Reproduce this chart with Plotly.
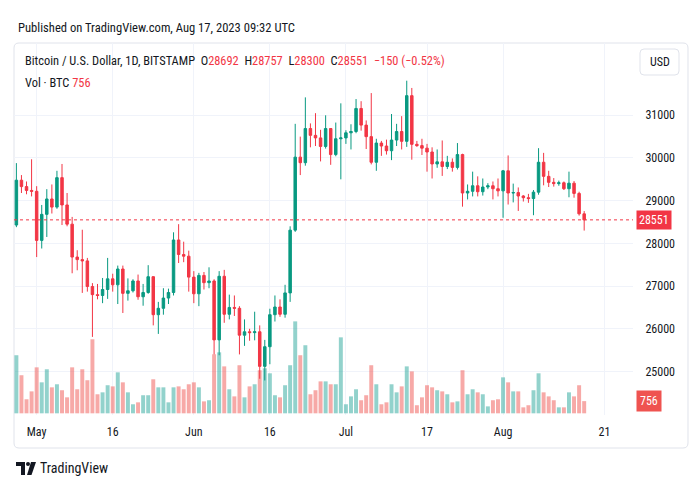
import plotly.graph_objects as go
import pandas as pd

dates = pd.date_range("2023-04-27", "2023-08-17").strftime("%Y-%m-%d").tolist()

opens = [28430, 29480, 29330, 29240,
         29220, 28070, 28680, 29040, 28850, 29540, 28900, 28450, 27680, 27620, 27590, 26990, 26800, 26780, 26920, 27170,
         27030, 27400, 26830, 26890, 27120, 26750, 26850, 27220, 26330, 26480, 26720, 26850, 28080, 27740, 27700,
         27210, 26820, 27250, 27080, 27120, 25740, 27230, 26340, 26500, 26480, 25850, 25930, 25910, 25930, 25120,
         25580, 26330, 26510, 26340, 26840, 28310, 30020, 29890, 30690, 30530, 30470, 30270, 30690, 30080, 30450,
         30470, 30590, 30620, 31160, 30770, 30500, 29900, 30350, 30280, 30170, 30420, 30620, 30390, 31460, 30320,
         30290, 30230, 30140, 29860, 29910, 29800, 29900, 29780, 30080, 29180, 29220, 29350, 29210, 29320, 29350, 29280,
         29230, 29700, 29180, 29190, 29110, 29070, 29050, 29200, 29900, 29570, 29430, 29400, 29420, 29280, 29410, 29170, 28692]
highs = [29880, 29600, 29450, 29970,
         29340, 28900, 29270, 29380, 29700, 29860, 29180, 28620, 27840, 28320, 27660, 27070, 27050, 27190, 27660, 27290,
         27480, 27480, 27180, 27160, 27270, 27050, 27490, 27230, 26630, 26950, 26940, 28260, 28450, 28040, 27830,
         27350, 27310, 27330, 27440, 27160, 27350, 27380, 26800, 26780, 26530, 26220, 26000, 26400, 26080, 25740,
         26470, 26780, 26690, 27030, 28400, 30800, 30500, 31420, 30810, 31050, 30660, 31000, 30700, 30830, 31280,
         30650, 30790, 31380, 31330, 30880, 31520, 30450, 30400, 30430, 31030, 30800, 30980, 31810, 31640, 30400,
         30450, 30330, 30250, 30200, 30410, 30050, 29990, 30350, 30100, 29380, 29680, 29570, 29520, 29410, 29450, 29520,
         29720, 30060, 29400, 29310, 29130, 29160, 29250, 30230, 30120, 29700, 29530, 29470, 29450, 29680, 29460, 29210, 28757]
lows = [28380, 29180, 29150, 29100,
        27680, 27880, 28150, 28700, 28810, 28430, 28400, 27300, 27370, 26840, 26870, 25810, 26690, 26600, 26700, 26870,
        26580, 26370, 26660, 26850, 26680, 26540, 26820, 26080, 25880, 26330, 26580, 26780, 27540, 27560, 26870,
        26600, 26530, 26920, 26950, 25400, 25380, 26140, 26220, 26300, 25400, 25600, 25720, 25730, 24830, 24790,
        25170, 26170, 26280, 26260, 26630, 28270, 29600, 29820, 30250, 30280, 29920, 30220, 29840, 30040, 29500,
        30330, 30200, 30580, 30640, 30210, 29850, 29700, 30050, 30080, 29950, 30280, 30200, 30260, 29960, 30260,
        30070, 29680, 29520, 29770, 29580, 29740, 29680, 29730, 28860, 29030, 29100, 29100, 29120, 29270, 29030, 29100,
        28600, 28910, 28960, 28760, 28980, 28950, 28660, 29140, 29360, 29320, 29330, 29350, 29250, 29080, 29070, 28650, 28300]
closes = [29480, 29330, 29240, 29220,
          28070, 28680, 29040, 28850, 29540, 28900, 28450, 27680, 27620, 27590, 26990, 26800, 26780, 26920, 27170, 27030,
          27400, 26830, 26890, 27120, 26750, 26850, 27220, 26330, 26480, 26720, 26850, 28080, 27740, 27700, 27210,
          26820, 27250, 27080, 27120, 25740, 27230, 26340, 26500, 26480, 25850, 25930, 25910, 25930, 25120, 25580,
          26330, 26510, 26340, 26840, 28310, 30020, 29890, 30690, 30530, 30470, 30270, 30690, 30080, 30450, 30470,
          30590, 30620, 31160, 30770, 30500, 29900, 30350, 30280, 30170, 30420, 30620, 30390, 31460, 30320, 30290,
          30230, 30140, 29860, 29910, 29800, 29900, 29780, 30080, 29180, 29220, 29350, 29210, 29320, 29350, 29280, 29230,
          29700, 29180, 29190, 29110, 29070, 29050, 29200, 29900, 29570, 29430, 29400, 29420, 29280, 29410, 29170, 28692, 28551]
volumes = [3600, 2360, 870, 1360,
           2850, 1920, 2730, 1610, 1800, 1430, 990, 2850, 1490, 2730, 2050, 4590, 1180, 1300, 1740, 1670,
           2540, 1920, 1300, 560, 680, 1120, 1120, 2110, 1610, 1610, 680, 1610, 1670, 1490, 1800,
           1920, 1610, 740, 810, 3660, 3780, 2910, 1490, 1050, 2980, 990, 1670, 1800, 2670, 2790,
           2480, 1120, 990, 1740, 2980, 5700, 3600, 4220, 1180, 1430, 1980, 1980, 1800, 1800, 4710,
           560, 1050, 1490, 810, 1120, 2980, 1800, 560, 680, 1800, 1300, 1670, 2910, 2600, 500,
           990, 1740, 1610, 1430, 1360, 1180, 680, 740, 2670, 1180, 1490, 1300, 1180, 430, 810, 870,
           2230, 1920, 1360, 1360, 370, 500, 1430, 2480, 1300, 1050, 810, 370, 370, 1300, 1050, 1740, 756]

tick_dates = ["2023-05-01", "2023-05-16", "2023-06-01", "2023-06-16", "2023-07-01", "2023-07-17", "2023-08-01", "2023-08-21"]
tick_labels = ["May", "16", "Jun", "16", "Jul", "17", "Aug", "21"]
price_ticks = [25000, 26000, 27000, 28000, 29000, 30000, 31000]

UP, DOWN = "#089981", "#f23645"
VUP, VDOWN = "rgba(38,166,154,0.5)", "rgba(239,83,80,0.5)"
TXT = "#131722"
FONT = "Roboto Condensed, Roboto, sans-serif"

vol_colors = [VUP if c >= o else VDOWN for o, c in zip(opens, closes)]

fig = go.Figure()
fig.add_trace(go.Bar(x=dates, y=volumes, marker=dict(color=vol_colors, line=dict(width=0)),
                     width=0.78 * 86400000, yaxis="y", hoverinfo="skip"))
fig.add_trace(go.Candlestick(x=dates, open=opens, high=highs, low=lows, close=closes, yaxis="y2",
                             increasing=dict(line=dict(color=UP, width=1), fillcolor=UP),
                             decreasing=dict(line=dict(color=DOWN, width=1), fillcolor=DOWN)))

# page body has an 8px margin: figure is drawn at (8, 8)
OFF = 8
L, R, T, B = 14, 633, 43, 415   # plot area in window pixels


def px(x, y):
    return ((x - L) / (R - L), (B - y) / (B - T))


def rrect(x0, y0, x1, y1, r):
    def p(x, y):
        a, b = px(x, y)
        return f"{a:.5f},{b:.5f}"
    return (f"M {p(x0+r,y0)} L {p(x1-r,y0)} Q {p(x1,y0)} {p(x1,y0+r)} L {p(x1,y1-r)} Q {p(x1,y1)} {p(x1-r,y1)} "
            f"L {p(x0+r,y1)} Q {p(x0,y1)} {p(x0,y1-r)} L {p(x0,y0+r)} Q {p(x0,y0)} {p(x0+r,y0)} Z")


shapes = [
    dict(type="path", xref="paper", yref="paper", path=rrect(14, 43, 688, 448, 5),
         line=dict(color="#e0e3eb", width=1), layer="below"),
    dict(type="path", xref="paper", yref="paper", path=rrect(640, 49, 679, 75, 4),
         line=dict(color="#e0e3eb", width=1)),
    dict(type="line", xref="paper", yref="y2", x0=0, x1=1, y0=closes[-1], y1=closes[-1],
         line=dict(color=DOWN, width=1, dash="dot")),
]


def poly(points):
    s = "M " + " L ".join("{:.5f},{:.5f}".format(*px(x, y)) for x, y in points) + " Z"
    return dict(type="path", xref="paper", yref="paper", path=s, fillcolor=TXT, line=dict(width=0))


# TradingView logo approximation
shapes.append(poly([(16, 462), (25, 462), (25, 475), (21, 475), (21, 466), (16, 466)]))
shapes.append(poly([(31, 462), (36, 462), (31.5, 475), (27, 475)]))
shapes.append(dict(type="circle", xref="paper", yref="paper",
                   x0=px(26, 0)[0], x1=px(30, 0)[0], y0=px(0, 466)[1], y1=px(0, 462)[1],
                   fillcolor=TXT, line=dict(width=0)))

red = lambda s: f"<span style='color:{DOWN}'>{s}</span>"
sp = "\u00a0\u00a0"
legend1 = ("Bitcoin / U.S. Dollar, 1D, BITSTAMP" + sp + "O" + red(opens[-1]) + sp + "H" + red(highs[-1]) + sp +
           "L" + red(lows[-1]) + sp + "C" + red(closes[-1]) + sp +
           red("\u2212150 (\u22120.52%)"))

annotations = [
    dict(text="Published on TradingView.com, Aug 17, 2023 09:32 UTC", x=px(16, 0)[0], y=px(0, 27)[1],
         xref="paper", yref="paper", xanchor="left", yanchor="middle", showarrow=False,
         font=dict(size=12.6, color=TXT, family=FONT)),
    dict(text=legend1, x=px(23, 0)[0], y=px(0, 61)[1], xref="paper", yref="paper", xanchor="left",
         yanchor="middle", showarrow=False, font=dict(size=12.4, color=TXT, family=FONT)),
    dict(text="Vol \u00b7 BTC " + red(volumes[-1]), x=px(23, 0)[0], y=px(0, 82)[1], xref="paper", yref="paper",
         xanchor="left", yanchor="middle", showarrow=False, font=dict(size=12.4, color=TXT, family=FONT)),
    dict(text="USD", x=px(659.5, 0)[0], y=px(0, 62)[1], xref="paper", yref="paper", xanchor="center",
         yanchor="middle", showarrow=False, font=dict(size=12, color=TXT, family=FONT)),
    dict(text=str(closes[-1]), x=1, xshift=3, y=closes[-1], xref="paper", yref="y2", xanchor="left",
         yanchor="middle", showarrow=False, bgcolor=DOWN, borderpad=2,
         font=dict(size=12, color="white", family=FONT)),
    dict(text=str(volumes[-1]), x=1, xshift=3, y=volumes[-1], xref="paper", yref="y", xanchor="left",
         yanchor="middle", showarrow=False, bgcolor="#ef5350", borderpad=3,
         font=dict(size=12, color="white", family=FONT)),
    dict(text="TradingView", x=px(38, 0)[0], y=px(0, 468)[1], xref="paper", yref="paper", xanchor="left",
         yanchor="middle", showarrow=False, font=dict(size=14, color=TXT, family=FONT)),
]

fig.update_layout(
    width=700 - OFF, height=500 - OFF,
    margin=dict(l=L - OFF, r=700 - R, t=T - OFF, b=500 - B, autoexpand=False),
    paper_bgcolor="white", plot_bgcolor="white",
    showlegend=False, boxgap=0.3,
    shapes=shapes, annotations=annotations,
    font=dict(family=FONT, color=TXT, size=12),
    xaxis=dict(type="date", range=["2023-04-26 12:43", "2023-08-26 15:07"],
               tickvals=tick_dates, ticktext=tick_labels, showgrid=True, gridcolor="#f0f3fa",
               zeroline=False, showline=False, ticks="outside", ticklen=6, tickcolor="rgba(0,0,0,0)",
               rangeslider=dict(visible=False), tickfont=dict(size=12, color=TXT, family=FONT)),
    yaxis=dict(range=[-105, 22959], visible=False, showgrid=False, fixedrange=True),
    yaxis2=dict(overlaying="y", side="right", range=[23981, 32693], tickvals=price_ticks, tickformat="d",
                showgrid=True, gridcolor="#f0f3fa", zeroline=False, showline=False,
                ticks="outside", ticklen=9, tickcolor="rgba(0,0,0,0)",
                tickfont=dict(size=12, color=TXT, family=FONT)),
)

fig.write_html("out.html")
